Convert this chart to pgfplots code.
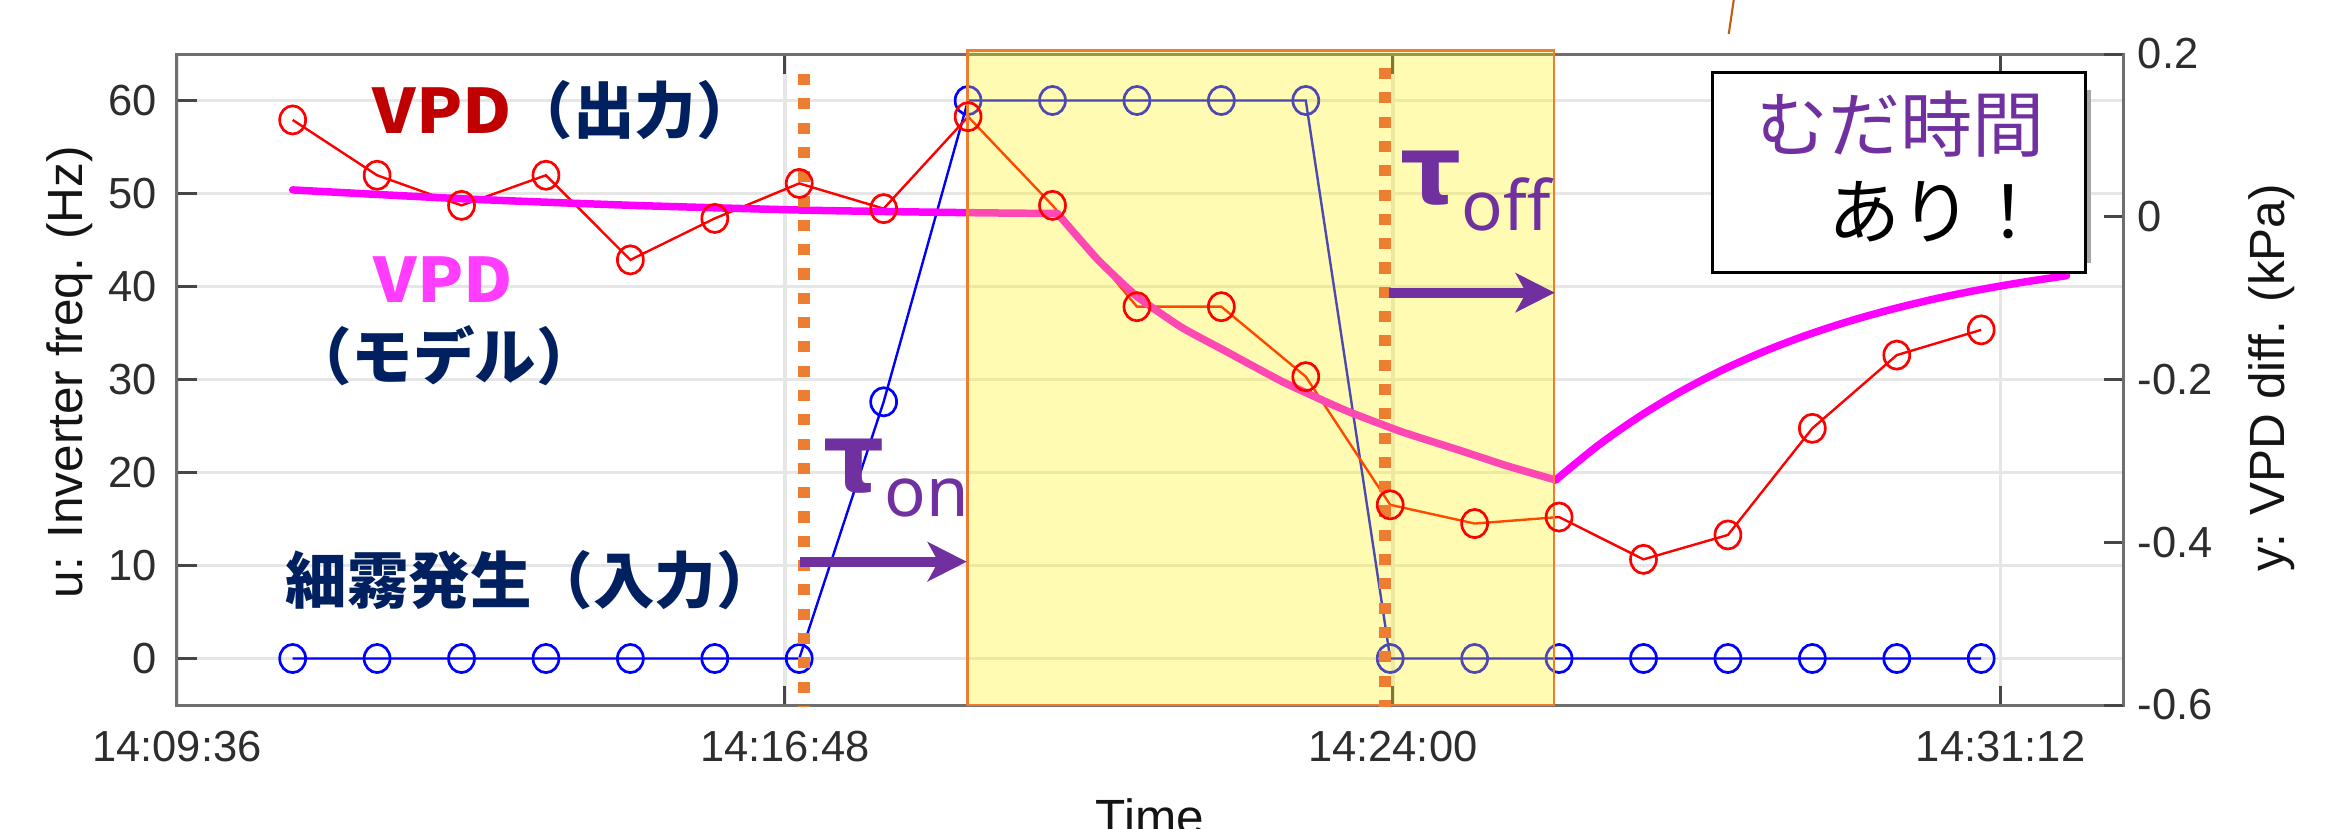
\documentclass[border=0pt]{standalone}
\usepackage{fontspec}
\usepackage{pgfplots}
\pgfplotsset{compat=1.18}
\usetikzlibrary{arrows.meta}
\setmainfont{Liberation Sans}
\newfontfamily\jp{Noto Sans CJK JP}
\newfontfamily\greek{Noto Sans}
\newfontfamily\taufont{DejaVu Sans}
\definecolor{mblue}{RGB}{0,0,255}
\definecolor{mred}{RGB}{255,0,0}
\definecolor{mmag}{RGB}{255,0,255}
\definecolor{orng}{RGB}{237,125,49}
\definecolor{purp}{RGB}{112,48,160}
\definecolor{dred}{RGB}{192,0,0}
\definecolor{navy}{RGB}{0,32,96}
\definecolor{pinkt}{RGB}{255,60,255}
\definecolor{gridc}{RGB}{230,230,230}
\definecolor{axc}{RGB}{110,110,110}
\definecolor{tickc}{RGB}{70,70,70}
\definecolor{tickt}{RGB}{45,45,45}
\definecolor{labc}{RGB}{20,20,20}
\definecolor{brn}{RGB}{197,90,17}
\newcommand{\annfont}{\jp\bfseries\fontsize{20.5}{23}\selectfont}
\begin{document}
\begin{tikzpicture}
\begin{axis}[
  at={(0pt,0pt)}, anchor=south west,
  scale only axis, width=648.67pt, height=217pt,
  xmin=0, xmax=23.05, ymin=-5, ymax=65,
  xtick={0,7.2,14.4,21.6},
  xticklabels={14:09:36,14:16:48,14:24:00,14:31:12},
  ytick={0,10,20,30,40,50,60},
  yticklabels={0,10,20,30,40,50,60},
  xtick pos=both, ytick pos=left,
  tick align=inside,
  major tick length=6.5pt,
  tick style={line width=1pt, color=tickc},
  grid=major,
  major grid style={line width=1.2pt, color=gridc},
  axis line style={line width=1pt, color=axc},
  tick label style={font=\fontsize{14.5}{17}\selectfont, text=tickt},
  xticklabel style={yshift=-5.2pt},
  yticklabel style={xshift=-3.2pt},
  clip=false,
]
\addplot[mblue, line width=0.8pt, mark=o, mark size=4.7pt,
  mark options={solid, line width=0.9pt, xscale=0.92}]
  coordinates {(1.37,0)(2.37,0)(3.37,0)(4.37,0)(5.37,0)(6.37,0)(7.37,0)
  (8.37,27.6)(9.37,60)(10.37,60)(11.37,60)(12.37,60)(13.37,60)
  (14.37,0)(15.37,0)(16.37,0)(17.37,0)(18.37,0)(19.37,0)(20.37,0)(21.37,0)};
\node[rotate=90, font=\fontsize{16.5}{19}\selectfont, text=labc]
  at ([xshift=-35.7pt, yshift=2.5pt]rel axis cs:0,0.5) {u: Inverter freq. (Hz)};
\node[anchor=base, font=\fontsize{16.5}{19}\selectfont, text=labc]
  at ([yshift=-43.3pt]rel axis cs:0.5,0) {Time};
\end{axis}
\begin{axis}[
  at={(0pt,0pt)}, anchor=south west,
  scale only axis, width=648.67pt, height=217pt,
  xmin=0, xmax=23.05, ymin=-0.6, ymax=0.2,
  hide x axis,
  axis y line*=right,
  ytick={-0.6,-0.4,-0.2,0,0.2},
  yticklabels={-0.6,-0.4,-0.2,0,0.2},
  tick align=inside,
  major tick length=6.5pt,
  tick style={line width=1pt, color=tickc},
  axis line style={line width=1pt, color=axc},
  tick label style={font=\fontsize{14.5}{17}\selectfont, text=tickt},
  yticklabel style={xshift=1.4pt},
  clip=false,
]
% VPD measured (output)
\addplot[mred, line width=0.8pt, mark=o, mark size=4.7pt,
  mark options={solid, line width=0.9pt, xscale=0.92}]
  coordinates {(1.37,0.119)(2.37,0.051)(3.37,0.014)(4.37,0.051)(5.37,-0.053)
  (6.37,-0.002)(7.37,0.041)(8.37,0.010)(9.37,0.123)(10.37,0.014)
  (11.37,-0.1105)(12.37,-0.1105)(13.37,-0.1965)(14.37,-0.354)(15.37,-0.377)
  (16.37,-0.369)(17.37,-0.421)(18.37,-0.391)(19.37,-0.260)(20.37,-0.170)(21.37,-0.139)};
% VPD model
\addplot[mmag, line width=2.5pt, smooth, tension=0.4, line cap=round]
  coordinates {(1.37,0.033)(3.4,0.022)(5.4,0.014)(7.5,0.008)(9.4,0.005)(10.43,0.004)};
\addplot[mmag, line width=2.5pt, smooth, tension=0.3, line cap=round, line join=round]
  coordinates {(10.43,0.004)(10.9,-0.052)(11.37,-0.098)(11.9,-0.136)(12.40,-0.164)
  (13.1,-0.203)(13.83,-0.2375)(14.5,-0.264)(15.18,-0.2866)(15.75,-0.306)(16.33,-0.3235)};
\addplot[mmag, line width=2.5pt, smooth, tension=0.5, line cap=round]
  coordinates {(16.33,-0.3235)(16.83,-0.2812)(17.33,-0.2449)(17.83,-0.2137)(18.33,-0.1870)
  (18.83,-0.1641)(19.33,-0.1445)(19.83,-0.1276)(20.33,-0.1132)(20.83,-0.1007)
  (21.33,-0.0901)(21.83,-0.0810)(22.38,-0.0724)};
% highlighted dead-time band
\fill[yellow, fill opacity=0.3] (axis cs:9.362,-0.6) rectangle (axis cs:16.307,0.2041);
\draw[orng, line width=0.8pt] (axis cs:9.362,-0.6) rectangle (axis cs:16.307,0.2041);
\draw[orng, line width=4pt, dash pattern=on 3.7pt off 4.4pt]
  (axis cs:7.425,0.1754) -- (axis cs:7.425,-0.603);
\draw[orng, line width=4pt, dash pattern=on 3.7pt off 4.4pt]
  (axis cs:14.306,0.1828) -- (axis cs:14.306,-0.603);
\draw[purp, line width=3.4pt, -{Stealth[length=13pt,width=13pt,inset=3.5pt]}]
  (axis cs:7.378,-0.4239) -- (axis cs:9.355,-0.4239);
\draw[purp, line width=3.4pt, -{Stealth[length=13pt,width=13pt,inset=3.5pt]}]
  (axis cs:14.353,-0.0933) -- (axis cs:16.319,-0.0933);
\node[anchor=base west, inner sep=0, text=purp] at (axis cs:7.650,-0.3382)
  {{\taufont\bfseries\fontsize{32}{32}\selectfont τ}\raisebox{-8.3pt}{\greek\fontsize{23}{23}\selectfont on}};
\node[anchor=base west, inner sep=0, text=purp] at (axis cs:14.484,0.0169)
  {{\taufont\bfseries\fontsize{32}{32}\selectfont τ}\raisebox{-9pt}{\greek\fontsize{23}{23}\selectfont off}};
% annotations
\node[anchor=west, inner sep=0, font=\annfont] at (axis cs:2.309,0.1312)
  {\textcolor{dred}{\scalebox{1.1}[1]{VPD}}\textcolor{navy}{（出力）}};
\node[inner sep=0, font=\annfont, text=pinkt] at (axis cs:3.156,-0.0771) {\scalebox{1.1}[1]{VPD}};
\node[inner sep=0, font=\annfont, text=navy] at (axis cs:3.162,-0.1711) {（モデル）};
\node[anchor=west, inner sep=0, font=\annfont, text=navy] at (axis cs:1.279,-0.4464) {細霧発生（入力）};
% dead time box
\fill[gray!70] (axis cs:22.625,0.1558) rectangle (axis cs:22.665,-0.0568);
\draw[black, line width=1pt, fill=white] (axis cs:18.19,0.1767) rectangle (axis cs:22.608,-0.0691);
\node[inner sep=0, text=purp, font=\jp\fontsize{24}{26}\selectfont] at (axis cs:20.417,0.114) {むだ時間};
\node[anchor=west, inner sep=0, font=\jp\fontsize{24}{26}\selectfont] at (axis cs:19.553,0.0058) {あり！};
\draw[brn, line width=0.7pt] (axis cs:18.439,0.2664) -- (axis cs:18.380,0.2246);
\node[rotate=90, font=\fontsize{16.5}{19}\selectfont, text=labc]
  at ([xshift=49.7pt, yshift=0.5pt]rel axis cs:1,0.5) {y: VPD diff. (kPa)};
\end{axis}
\pgfresetboundingbox
\useasboundingbox (-59pt,-41pt) rectangle (719.33pt,235pt);
\end{tikzpicture}
\end{document}
